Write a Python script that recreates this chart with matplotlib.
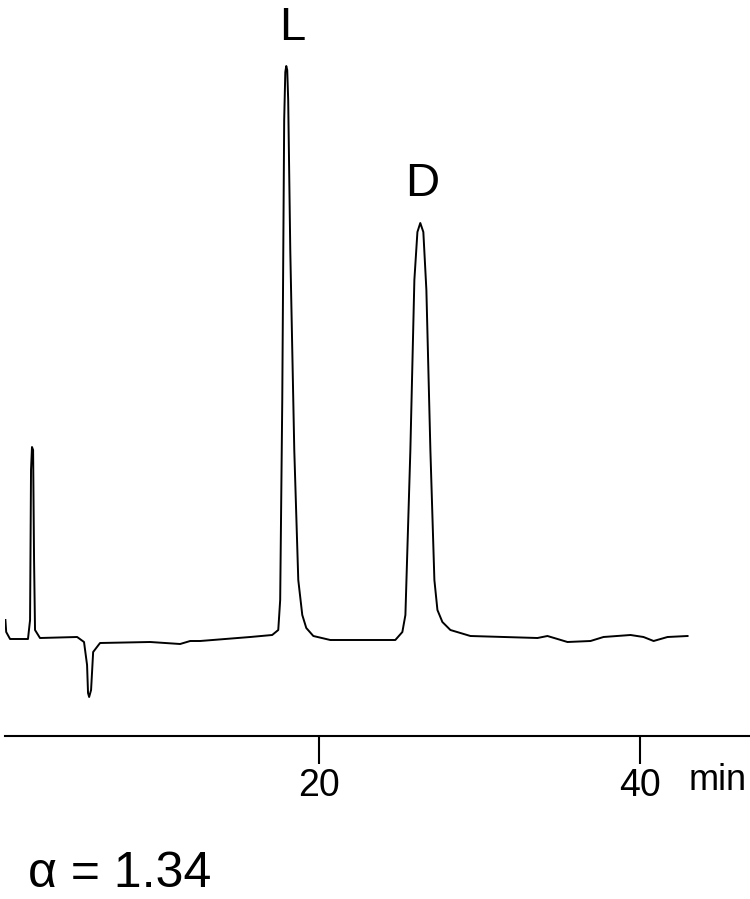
import matplotlib
matplotlib.use("Agg")
import matplotlib.pyplot as plt

# retention time (min) and detector signal (arbitrary units, 0 = time axis)
TIME = [0.40, 0.45, 0.69, 1.81, 1.94, 2.00, 2.06, 2.13, 2.19, 2.25, 2.56, 4.88,
        5.31, 5.50, 5.56, 5.63, 5.75, 5.88, 6.31, 9.44, 11.31, 11.94, 12.56,
        15.69, 17.06, 17.44, 17.56, 17.69, 17.81, 17.88, 17.94, 18.00, 18.06,
        18.19, 18.44, 18.69, 18.94, 19.19, 19.63, 20.69, 24.75, 25.19, 25.38,
        25.69, 25.94, 26.13, 26.31, 26.50, 26.69, 26.94, 27.19, 27.38, 27.69,
        28.19, 29.44, 33.63, 34.25, 34.88, 35.50, 36.94, 37.75, 39.44, 40.25,
        40.88, 41.75, 43.00]
SIGNAL = [116, 104, 97, 97, 116, 266, 289, 286, 176, 106, 98, 99,
          94, 71, 43, 39, 46, 84, 93, 94, 92, 95, 95,
          99, 101, 106, 136, 336, 616, 664, 670, 666, 636,
          486, 286, 156, 121, 108, 100, 96, 96, 104, 121,
          286, 456, 504, 513, 504, 446, 286, 156, 126, 114,
          106, 100, 98, 100, 97, 94, 95, 99, 101, 99,
          95, 99, 100]
TICKS = [20, 40]
PEAKS = [("L", 18.3, 686), ("D", 26.4, 530)]
ALPHA_TEXT = "α = 1.34"

plt.rcParams["font.family"] = ["Liberation Sans", "DejaVu Sans"]

fig = plt.figure(figsize=(7.5, 8.99), dpi=100)
ax = fig.add_axes([5 / 750, 163 / 899, 745 / 750, 736 / 899])
ax.plot(TIME, SIGNAL, color="black", lw=1.4)
ax.set_xlim(0.375, 46.9)
ax.set_ylim(0, 736)
for s in ["top", "right", "left"]:
    ax.spines[s].set_visible(False)
ax.spines["bottom"].set_linewidth(1.5)
ax.set_yticks([])
ax.set_xticks(TICKS)
ax.set_xticklabels([str(t) for t in TICKS], fontsize=27)
ax.tick_params(axis="x", direction="out", length=20, width=1.5, pad=3)
ax.patch.set_visible(False)

for name, t, s in PEAKS:
    ax.text(t, s, name, fontsize=34, ha="center", va="bottom")

fig.text(718 / 750, 1 - 781 / 899, "min", fontsize=26, ha="center", va="center")
fig.text(28 / 750, 1 - 874 / 899, ALPHA_TEXT, fontsize=36, ha="left", va="center")

fig.savefig("out.png", dpi=100)
